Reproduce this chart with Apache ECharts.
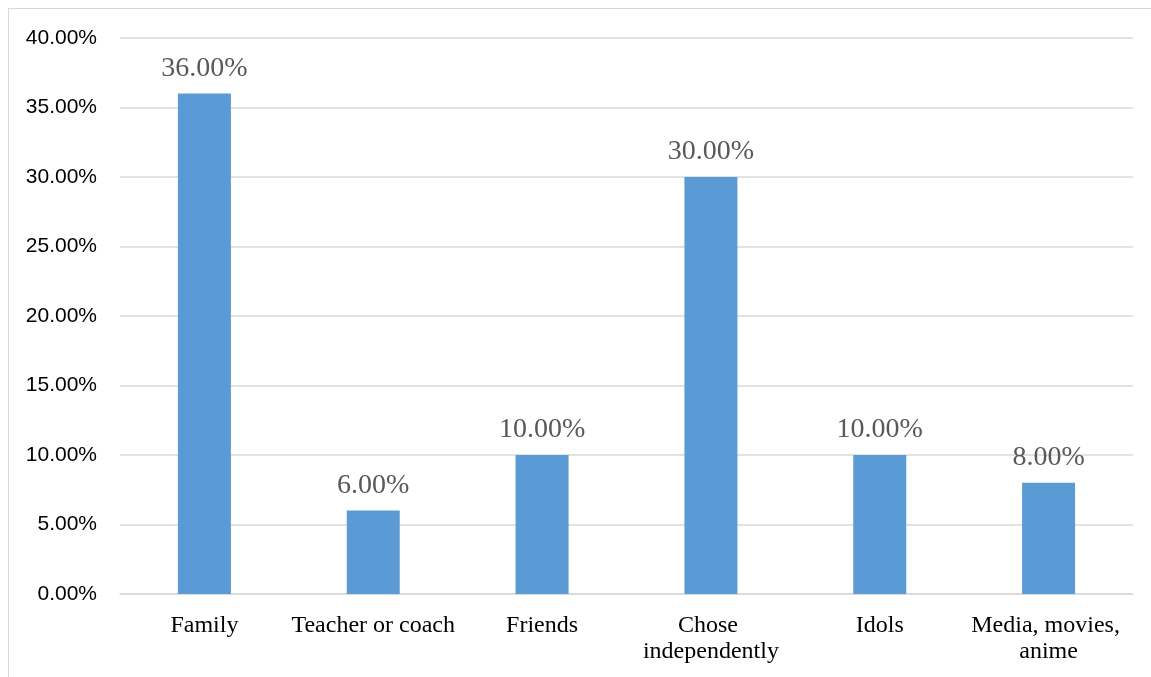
<!DOCTYPE html>
<html>
<head>
<meta charset="utf-8">
<title>Sources of influence</title>
<script src="https://cdn.jsdelivr.net/npm/echarts@6/dist/echarts.min.js"></script>
<style>
  html, body { margin: 0; padding: 0; background: #ffffff; overflow: hidden; }
  #frame {
    position: absolute; left: 8px; top: 8px;
    width: 1200px; height: 720px;
    border-left: 1.5px solid #d9d9d9; border-top: 1.5px solid #d9d9d9;
  }
  #chart { position: absolute; left: 0; top: 0; width: 1151px; height: 677px; }
</style>
</head>
<body>
<div id="frame"></div>
<div id="chart"></div>
<script>
// Share of respondents by main influence (percent)
const categories = ['Family', 'Teacher or coach', 'Friends', 'Chose independently', 'Idols', 'Media, movies, anime'];
const shares = [36, 6, 10, 30, 10, 8];
const yTicks = { min: 0, max: 40, step: 5 };

const chart = echarts.init(document.getElementById('chart'), null, { renderer: 'canvas' });

chart.setOption({
  animation: false,
  backgroundColor: 'transparent',
  grid: { left: 120, right: 18, top: 38, bottom: 83, containLabel: false },
  xAxis: {
    type: 'category',
    data: categories,
    axisLine: { show: true, lineStyle: { color: '#d9d9d9', width: 1.5 } },
    axisTick: { show: false },
    axisLabel: {
      interval: 0,
      margin: 19,
      color: '#000000',
      fontFamily: '"Liberation Serif", "Times New Roman", serif',
      fontSize: 24,
      lineHeight: 26,
      width: 180,
      overflow: 'break',
      align: 'center'
    }
  },
  yAxis: {
    type: 'value',
    min: yTicks.min,
    max: yTicks.max,
    interval: yTicks.step,
    axisLine: { show: false },
    axisTick: { show: false },
    splitLine: { lineStyle: { color: '#d9d9d9', width: 1.5 } },
    axisLabel: {
      margin: 23,
      color: '#000000',
      fontFamily: '"Liberation Sans", Arial, sans-serif',
      fontSize: 21,
      formatter: v => v.toFixed(2) + '%'
    }
  },
  series: [{
    type: 'bar',
    data: shares,
    barWidth: 53,
    itemStyle: { color: '#5b9bd5' },
    label: {
      show: true,
      position: 'top',
      distance: 11,
      color: '#595959',
      fontFamily: '"Liberation Serif", "Times New Roman", serif',
      fontSize: 28,
      formatter: p => p.value.toFixed(2) + '%'
    }
  }]
});
</script>
</body>
</html>
